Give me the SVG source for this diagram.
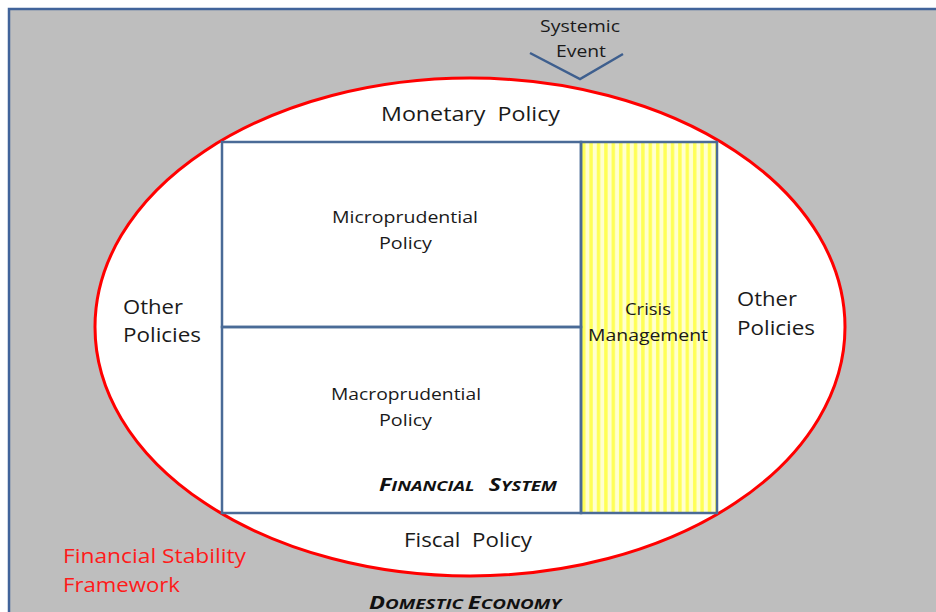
<svg xmlns="http://www.w3.org/2000/svg" width="936" height="612" viewBox="0 0 936 612">
<defs>
<pattern id="stripes" x="581" y="0" width="7.4" height="10" patternUnits="userSpaceOnUse">
<rect x="0" y="0" width="7.4" height="10" fill="#ffffd0"/>
<rect x="1" y="0" width="3.4" height="10" fill="#ffff55"/>
</pattern>
</defs>
<style>
.t{font-family:"Open Sans","Liberation Sans",sans-serif;fill:#1a1a1a}
.c{text-anchor:middle}
.blue{fill:none;stroke:#4a6b97;stroke-width:2.5}
.sc{font-family:"Open Sans","Liberation Sans",sans-serif;font-style:italic;font-weight:bold;fill:#111}
.red{font-family:"Open Sans","Liberation Sans",sans-serif;fill:#ff1a1a}
</style>
<rect width="936" height="612" fill="#ffffff"/>
<g id="domestic-economy">
<rect x="9" y="9" width="940" height="620" fill="#bebebe" stroke="#41639a" stroke-width="2.5"/>
<text class="sc" x="369" y="609" textLength="192" lengthAdjust="spacingAndGlyphs"><tspan font-size="17">D</tspan><tspan font-size="13.5">OMESTIC </tspan><tspan font-size="17">E</tspan><tspan font-size="13.5">CONOMY</tspan></text>
</g>
<g id="framework">
<ellipse cx="470" cy="327" rx="375" ry="249" fill="#ffffff" stroke="#ff0000" stroke-width="3"/>
<text class="red" x="63" y="563" font-size="19.5" textLength="183" lengthAdjust="spacingAndGlyphs">Financial Stability</text>
<text class="red" x="63" y="592" font-size="19.5" textLength="117" lengthAdjust="spacingAndGlyphs">Framework</text>
</g>
<g id="monetary-policy">
<text class="t" x="381" y="121" font-size="19.5" textLength="179" lengthAdjust="spacingAndGlyphs" xml:space="preserve">Monetary  Policy</text>
</g>
<g id="fiscal-policy">
<text class="t" x="404" y="547" font-size="19.5" textLength="128" lengthAdjust="spacingAndGlyphs" xml:space="preserve">Fiscal  Policy</text>
</g>
<g id="other-policies-left">
<text class="t" x="123" y="314" font-size="19.5" textLength="60" lengthAdjust="spacingAndGlyphs">Other</text>
<text class="t" x="123" y="342" font-size="19.5" textLength="78" lengthAdjust="spacingAndGlyphs">Policies</text>
</g>
<g id="other-policies-right">
<text class="t" x="737" y="306" font-size="19.5" textLength="60" lengthAdjust="spacingAndGlyphs">Other</text>
<text class="t" x="737" y="335" font-size="19.5" textLength="78" lengthAdjust="spacingAndGlyphs">Policies</text>
</g>
<g id="crisis-management">
<rect x="581" y="142" width="136" height="371" fill="url(#stripes)"/>
<rect x="581" y="142" width="136" height="371" class="blue"/>
<text class="t" x="625" y="315" font-size="16.5" textLength="46" lengthAdjust="spacingAndGlyphs">Crisis</text>
<text class="t" x="588" y="341" font-size="16.5" textLength="120" lengthAdjust="spacingAndGlyphs">Management</text>
</g>
<g id="microprudential-policy">
<rect x="222" y="142" width="359" height="185" class="blue"/>
<text class="t" x="332" y="223" font-size="16.5" textLength="146" lengthAdjust="spacingAndGlyphs">Microprudential</text>
<text class="t" x="379" y="249" font-size="16.5" textLength="53" lengthAdjust="spacingAndGlyphs">Policy</text>
</g>
<g id="macroprudential-policy">
<rect x="222" y="327" width="359" height="186" class="blue"/>
<text class="t" x="331" y="400" font-size="16.5" textLength="150" lengthAdjust="spacingAndGlyphs">Macroprudential</text>
<text class="t" x="379" y="426" font-size="16.5" textLength="53" lengthAdjust="spacingAndGlyphs">Policy</text>
<text class="sc" x="379" y="491" textLength="178" lengthAdjust="spacingAndGlyphs" xml:space="preserve"><tspan font-size="17">F</tspan><tspan font-size="13.5">INANCIAL   </tspan><tspan font-size="17">S</tspan><tspan font-size="13.5">YSTEM</tspan></text>
</g>
<g id="systemic-event">
<text class="t" x="540" y="32" font-size="15.5" textLength="80" lengthAdjust="spacingAndGlyphs">Systemic</text>
<text class="t" x="556" y="57" font-size="15.5" textLength="50" lengthAdjust="spacingAndGlyphs">Event</text>
</g>
<g id="connectors">
<polyline points="530,53 580,79 623,54" fill="none" stroke="#3e5f8e" stroke-width="2.5"/>
</g>
</svg>
